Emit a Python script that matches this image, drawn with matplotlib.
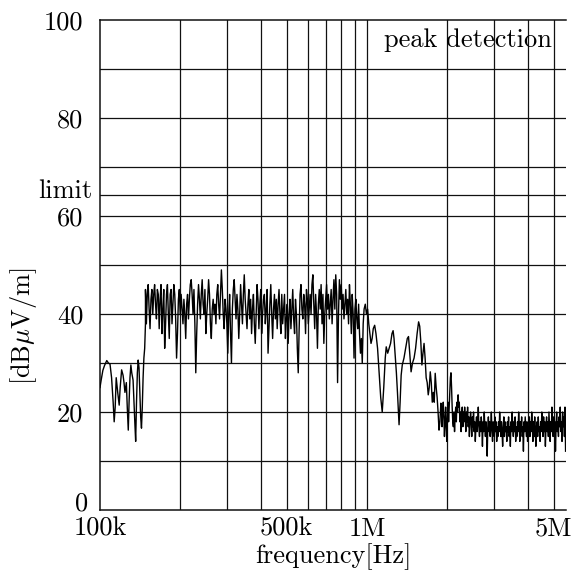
import numpy as np
import matplotlib
matplotlib.use("Agg")
import matplotlib.pyplot as plt
import matplotlib.transforms as mtransforms

plt.rcParams['font.family'] = ['cmr10', 'DejaVu Serif']
plt.rcParams['mathtext.fontset'] = 'cm'
plt.rcParams['axes.unicode_minus'] = False

# ---------------- data ----------------
# Segment A: 100k - 150k (frequency in kHz, level in dBuV/m)
seg_a_freq = [100, 101, 102.5, 104, 106, 107.5, 109, 110.5, 112, 113, 114,
              115, 116.5, 118, 119, 120.5, 122, 123, 124, 125.5, 126.5, 127.6,
              128.5, 129.5, 130.5, 131.5, 133, 134, 135, 136, 137, 138, 139,
              140, 141, 142, 143, 144, 145, 146, 147, 148]
seg_a_level = [25, 26.5, 28.5, 29.5, 30.5, 30, 29.8, 27, 22, 18, 21,
               27, 24, 21.4, 25, 28.6, 27.5, 26, 24, 26, 21, 16.3,
               22, 27, 29.6, 28, 26.5, 22, 18, 14, 22, 28, 30.6,
               29, 24, 19, 16.7, 21, 27, 31, 33, 38]

# Segment B: 148k - 975k (dense, log-spaced sweep points)
seg_b_start, seg_b_stop = 148, 975
seg_b_level = [
    45, 38, 44, 46, 41, 37, 43, 45, 40, 44,
    46, 42, 39, 45, 44, 37, 43, 46, 36, 41,
    45, 33, 38, 44, 46, 40, 35, 44, 45, 38,
    42, 46, 44, 39, 31, 36, 43, 45, 40, 44,
    41, 38, 43, 40, 35, 42, 44, 39, 43, 46,
    47, 44, 40, 45, 38, 28, 36, 42, 46, 43,
    39, 44, 47, 42, 40, 45, 36, 40, 43, 47,
    44, 38, 35, 41, 43, 40, 42, 38, 44, 46,
    42, 39, 44, 49, 45, 40, 37, 43, 41, 38,
    32, 40, 44, 36, 30, 41, 45, 47, 43, 39,
    44, 41, 35, 40, 46, 42, 38, 44, 48, 43,
    40, 37, 42, 45, 39, 43, 36, 41, 44, 38,
    34, 40, 46, 43, 37, 42, 45, 36, 40, 43,
    44, 38, 41, 45, 32, 37, 42, 46, 40, 35,
    41, 44, 39, 43, 37, 42, 45, 40, 36, 44,
    38, 41, 44, 35, 39, 42, 34, 40, 43, 37,
    41, 45, 39, 36, 43, 40, 33, 28, 37, 44,
    46, 41, 39, 44, 42, 36, 45, 43, 38, 41,
    44, 40, 46, 48, 42, 37, 44, 40, 33, 42,
    45, 41, 46, 38, 44, 34, 40, 43, 46, 41,
    44, 39, 42, 45, 38, 43, 47, 41, 48, 44,
    26, 40, 47, 43, 46, 41, 44, 39, 42, 45,
    40, 43, 38, 46, 42, 36, 44, 40, 31, 41,
    43, 39, 37, 42, 36, 32, 35, 30, 38, 41]

# Segment C: 975k - 1.9M (smoother part)
seg_c_freq = [985, 995, 1005, 1015, 1025, 1035, 1045, 1055, 1068, 1080,
              1095, 1110, 1125, 1140, 1155, 1170, 1180, 1195, 1210, 1225,
              1240, 1252, 1262, 1275, 1288, 1300, 1318, 1330, 1342, 1355,
              1375, 1395, 1415, 1430, 1445, 1462, 1480, 1500, 1520, 1540,
              1560, 1575, 1590, 1605, 1620, 1635, 1650, 1665, 1680, 1695,
              1710, 1725, 1740, 1755, 1770, 1785, 1800, 1815, 1830, 1845,
              1860, 1875, 1890]
seg_c_level = [42, 40, 41, 38, 36, 34, 35, 37, 37.7, 36,
               33, 28, 23, 20, 25, 31, 33.3, 32, 33, 34,
               36, 36.6, 35, 31.5, 28, 24, 17.4, 22, 27.5, 29.6,
               31, 33, 35, 35.4, 32, 28.2, 30, 31, 33, 36,
               38.4, 37.5, 34.3, 29.6, 32, 34, 31, 27, 26, 23.5,
               25, 28.2, 26, 22, 24, 22, 27.9, 25, 23, 20,
               16.3, 18, 21.8]

# Segment D: 1.9M - 5.56M (dense noise floor, log-spaced sweep points)
seg_d_start, seg_d_stop = 1900, 5540
seg_d_level = [
    21, 17, 20, 22, 19, 15, 18, 21, 17, 14,
    19, 22, 18, 21, 24, 27, 28, 25, 21, 18,
    17, 20, 16, 19, 21, 18, 22, 20, 23.5, 21,
    22, 18, 20, 16, 19, 21, 17, 20, 18, 21,
    19, 16, 20, 18, 21, 17, 19, 15, 18, 20,
    18, 15, 19, 17, 20, 16, 18, 14, 17, 19, 16, 18, 21, 17, 15, 18, 16, 19, 17, 13,
    18, 16, 20, 17, 15, 18, 16, 11, 17, 19, 16, 18, 15, 17, 20, 16, 14, 18, 17, 15,
    19, 16, 18, 14, 17, 15, 18, 16, 20, 17, 15, 18, 16, 13, 17, 19, 15, 18, 16, 17,
    14, 18, 16, 19, 15, 17, 13, 18, 16, 20, 17, 15, 18, 16, 19, 14, 17, 15, 18, 16,
    20, 17, 14, 18, 16, 19, 15, 17, 12, 18, 16, 19, 17, 15, 18, 14, 17, 16, 19, 15,
    18, 16, 20, 17, 14, 18, 15, 19, 16, 13, 17, 18, 15, 19, 16, 17, 14, 18, 16, 20,
    17, 15, 19, 16, 18, 13, 17, 19, 16, 18, 15, 20, 17, 14, 18, 16, 21, 17, 15, 19,
    16, 18, 12, 17, 20, 16, 18, 15, 19, 17, 21, 16, 18, 14, 20, 17, 19, 15, 21, 12]

limit_level = 64.3
x_grid = [200e3, 300e3, 400e3, 500e3, 600e3, 700e3, 800e3, 900e3,
          1e6, 2e6, 3e6, 4e6, 5e6]
y_grid = [10, 20, 30, 40, 50, 60, 70, 80, 90]
x_ticks = [100e3, 500e3, 1e6, 5e6]
x_tick_labels = ['100k', '500k', '1M', '5M']
y_ticks = [20, 40, 60, 80, 100]
y_tick_labels = ['20', '40', '60', '80', '100']

# ---------------- assemble ----------------
seg_b_freq = np.geomspace(seg_b_start, seg_b_stop, len(seg_b_level))
seg_d_freq = np.geomspace(seg_d_start, seg_d_stop, len(seg_d_level))
freq = np.concatenate([seg_a_freq, seg_b_freq, seg_c_freq, seg_d_freq]) * 1e3
level = np.concatenate([seg_a_level, seg_b_level, seg_c_level, seg_d_level])

FS = 19

fig = plt.figure(figsize=(5.76, 5.75), dpi=100)
ax = fig.add_axes([100 / 576, 1 - 510 / 575, 466 / 576, 490 / 575])
ax.set_xscale('log')
ax.set_xlim(100e3, 5.56e6)
ax.set_ylim(0, 100)

gl = dict(color='#111111', lw=0.9, zorder=1)
for xv in x_grid:
    ax.axvline(xv, **gl)
for yv in y_grid:
    ax.axhline(yv, **gl)
ax.axhline(limit_level, **gl)

ax.plot(freq, level, color='black', lw=1.0, zorder=3)

ax.set_xticks(x_ticks)
ax.set_xticklabels(x_tick_labels)
ax.xaxis.set_minor_locator(matplotlib.ticker.NullLocator())
ax.set_yticks(y_ticks)
ax.set_yticklabels(y_tick_labels)
ax.tick_params(axis='both', length=0, labelsize=FS)
ax.tick_params(axis='y', pad=12)
ax.tick_params(axis='x', pad=5)

for s in ['left', 'bottom', 'top']:
    ax.spines[s].set_linewidth(1.1)
    ax.spines[s].set_color('#111111')
ax.spines['right'].set_visible(False)

trans = mtransforms.blended_transform_factory(ax.transAxes, ax.transData)
# "0" tick label sits slightly raised in the original
ax.text(-12 / 466, 1.2, '0', transform=trans, ha='right', va='center',
        fontsize=FS)
ax.text(-0.017, limit_level - 0.6, 'limit', transform=trans, ha='right',
        va='baseline', fontsize=FS)

ax.text((552 - 100) / 466, 94.5, 'peak detection', transform=trans,
        ha='right', va='baseline', fontsize=FS)

ax.set_xlabel('frequency[Hz]', fontsize=FS, labelpad=2)
ax.set_ylabel(r'[dB$\mu$V/m]', fontsize=FS)
ax.yaxis.set_label_coords(-0.13, 0.375)

fig.savefig('out.png', dpi=100)
